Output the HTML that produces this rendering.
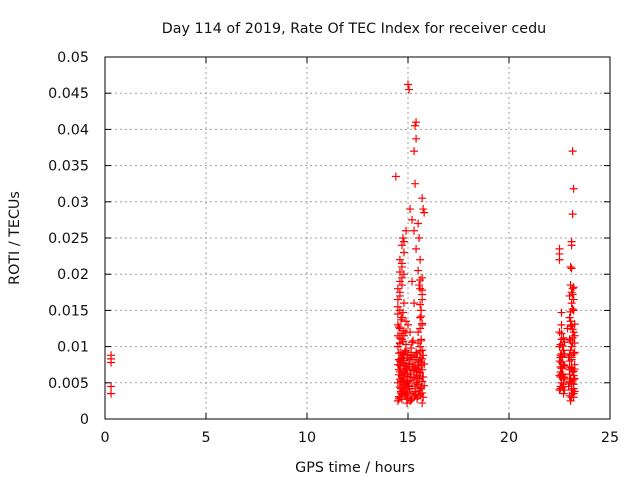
<!DOCTYPE html>
<html><head><meta charset="utf-8"><style>
html,body{margin:0;padding:0;background:#fff;}
svg{display:block;font-family:"DejaVu Sans","Liberation Sans",sans-serif;}
</style></head><body>
<svg id="chart" width="640" height="480" xmlns="http://www.w3.org/2000/svg">
<rect width="640" height="480" fill="#fff"/>
<text x="354" y="33" font-size="14.3" text-anchor="middle" fill="#111">Day 114 of 2019, Rate Of TEC Index for receiver cedu</text>
<text x="355" y="472" font-size="14.3" text-anchor="middle" fill="#111">GPS time / hours</text>
<text transform="translate(19,238) rotate(-90)" font-size="14.3" text-anchor="middle" fill="#111">ROTI / TECUs</text>
<g id="grid"></g><g id="ticks"></g><g id="pts"></g>
<rect x="105" y="57" width="505" height="362" fill="none" stroke="#000" stroke-width="1"/>
</svg>
<script>
const xTicks=[0,5,10,15,20,25];
const yTicks=[0,0.005,0.01,0.015,0.02,0.025,0.03,0.035,0.04,0.045,0.05];
const yTickLabels=["0","0.005","0.01","0.015","0.02","0.025","0.03","0.035","0.04","0.045","0.05"];
const ptsX=[0.3,0.3,0.3,0.3,0.3,
14.5,14.6,14.7,14.8,14.9,14.5,14.6,14.7,14.8,14.9,14.5,14.6,14.7,14.8,14.9,14.5,14.6,14.7,14.8,14.9,
14.55,14.65,14.75,14.85,14.95,14.55,14.65,14.75,14.85,14.95,14.55,14.65,14.75,14.85,14.95,14.6,14.5,14.7,14.6,14.5,14.8,14.6,14.5,14.7,14.6,14.8,14.7,14.6,14.8,14.7,14.75,14.8,14.9,14.5,14.9,14.4,
15.0,15.05,15.4,15.35,15.4,15.3,15.35,15.7,15.75,15.8,15.1,15.2,15.5,15.3,15.55,15.4,15.6,15.5,15.7,15.2,15.6,15.7,15.3,15.65,15.6,15.7,15.5,15.65,15.6,15.7,
15.0,15.1,15.2,15.3,15.4,15.5,15.6,15.7,15.0,15.1,15.2,15.3,15.4,15.5,15.6,15.7,15.05,15.15,15.25,15.35,15.45,15.55,15.65,15.1,15.0,15.2,
14.6,14.7,14.8,14.9,15.0,15.1,15.2,15.3,15.4,15.5,14.65,14.75,14.85,14.95,15.05,15.15,15.25,15.35,15.45,15.55,
14.55,14.7,14.85,15.0,15.15,15.3,15.45,15.6,15.75,
14.6,14.75,14.9,15.05,15.2,15.35,15.5,15.65,15.8,
14.55,14.7,14.85,15.0,15.15,15.3,15.45,15.6,15.75,
14.6,14.75,14.9,15.05,15.2,15.35,15.5,15.65,15.8,
14.55,14.7,14.85,15.0,15.15,15.3,15.45,15.6,15.75,
14.6,14.75,14.9,15.2,15.5,15.65,
14.65,14.8,14.95,15.1,15.4,15.55,15.7,
14.65,14.8,14.95,15.1,15.4,15.55,15.7,
14.65,14.8,14.95,15.1,15.4,15.55,15.7,
14.65,14.8,14.95,15.1,15.4,15.55,15.7,
14.5,14.6,14.7,14.8,15.6,15.7,15.65,14.55,14.65,14.75,15.6,15.7,14.5,14.6,14.7,15.55,15.7,14.6,14.7,15.6,
22.5,22.5,22.5,22.6,22.6,22.5,22.6,22.5,22.6,22.5,22.6,22.5,22.6,22.5,22.7,22.7,22.7,22.55,22.55,22.55,22.7,
22.55,22.65,22.75,22.55,22.65,22.75,22.55,22.65,22.75,22.55,22.65,22.75,22.55,22.65,22.75,22.6,22.7,
23.15,23.2,23.15,23.1,23.1,23.05,23.1,23.05,23.15,23.0,23.1,23.2,23.0,23.1,23.2,23.0,23.1,23.2,23.0,23.1,23.2,23.0,23.1,23.2,23.05,23.15,22.95,23.05,23.15,23.25,22.95,23.05,23.15,23.25,22.9,23.05,
23.0,23.1,23.2,23.0,23.1,23.2,22.6,22.7,22.6,22.7,
23.0,23.1,23.2,23.25,23.0,23.1,23.2,23.25,23.0,23.1,23.2,23.25,23.0,23.1,23.2,23.25,23.05,23.15,23.25,23.05,23.15,23.25,23.05,23.15,23.2,23.1,23.15,23.2];
const ptsY=[0.0035,0.0045,0.0078,0.0083,0.0088,
0.0025,0.003,0.0035,0.004,0.0045,0.005,0.0055,0.006,0.0065,0.007,0.0075,0.008,0.0085,0.009,0.0095,0.01,0.0105,0.011,0.0115,0.012,
0.0028,0.0042,0.0052,0.0062,0.0072,0.0082,0.0092,0.0038,0.0048,0.0058,0.0068,0.0078,0.0088,0.0032,0.0022,0.0125,0.013,0.014,0.015,0.0155,0.016,0.017,0.018,0.0185,0.019,0.02,0.021,0.022,0.023,0.024,0.025,0.0245,0.026,0.0145,0.0135,0.0335,
0.0462,0.0455,0.041,0.0405,0.0387,0.037,0.0325,0.0305,0.029,0.0285,0.029,0.0275,0.027,0.026,0.025,0.0235,0.022,0.0205,0.0195,0.019,0.018,0.0165,0.016,0.015,0.014,0.013,0.012,0.011,0.01,0.0095,
0.0028,0.0035,0.0045,0.0055,0.0065,0.0075,0.0085,0.0022,0.0052,0.0062,0.0072,0.0082,0.0092,0.0032,0.0042,0.0058,0.0075,0.0098,0.0108,0.0038,0.0048,0.0068,0.0078,0.012,0.013,0.0028,
0.0065,0.0055,0.0075,0.0035,0.0045,0.0025,0.0085,0.0068,0.0058,0.0048,0.0038,0.0078,0.0062,0.0052,0.0042,0.0088,0.0072,0.0032,0.0066,0.0056,
0.0031,0.0027,0.0033,0.0029,0.0026,0.0032,0.0028,0.0034,0.0030,
0.0044,0.0047,0.0043,0.0046,0.0045,0.0042,0.0048,0.0044,0.0046,
0.0061,0.0058,0.0063,0.0059,0.0062,0.0057,0.0060,0.0064,0.0058,
0.0074,0.0077,0.0073,0.0076,0.0075,0.0072,0.0078,0.0074,0.0076,
0.0091,0.0088,0.0093,0.0089,0.0092,0.0087,0.0090,0.0094,0.0088,
0.0104,0.0107,0.0103,0.0106,0.0105,0.0108,
0.0036,0.0038,0.0035,0.0037,0.0034,0.0039,0.0036,
0.0052,0.0054,0.0051,0.0053,0.0050,0.0055,0.0052,
0.0068,0.0066,0.0069,0.0067,0.0070,0.0065,0.0068,
0.0083,0.0081,0.0084,0.0082,0.0085,0.0080,0.0083,
0.0115,0.0112,0.0118,0.0122,0.0125,0.0132,0.0142,0.0127,0.0137,0.0147,0.0158,0.0172,0.0165,0.0175,0.0195,0.0185,0.0178,0.0203,0.0215,0.0192,
0.0235,0.0228,0.022,0.0147,0.013,0.012,0.011,0.01,0.009,0.008,0.007,0.006,0.005,0.004,0.0035,0.0055,0.0075,0.0085,0.0065,0.0045,0.0095,
0.0042,0.0044,0.0040,0.0058,0.0061,0.0057,0.0072,0.0070,0.0074,0.0088,0.0086,0.0090,0.0103,0.0101,0.0106,0.0118,0.0112,
0.037,0.0318,0.0283,0.0245,0.024,0.021,0.0208,0.0185,0.018,0.017,0.016,0.015,0.014,0.013,0.012,0.011,0.01,0.009,0.008,0.007,0.006,0.005,0.004,0.003,0.0025,0.0035,0.0045,0.0055,0.0065,0.0075,0.0085,0.0095,0.0105,0.0115,0.0125,0.0135,
0.0062,0.0052,0.0042,0.0072,0.0082,0.0048,0.0062,0.0048,0.0078,0.0058,
0.0032,0.0030,0.0035,0.0038,0.0052,0.0049,0.0054,0.0056,0.0068,0.0071,0.0066,0.0069,0.0088,0.0085,0.0090,0.0092,0.0108,0.0112,0.0105,0.0128,0.0124,0.0131,0.0148,0.0152,0.0165,0.0175,0.0172,0.0182];
const NS="http://www.w3.org/2000/svg";
const X0=105,X1=610,Y0=419,Y1=57;
const sx=v=>X0+(v-0)/(25-0)*(X1-X0);
const sy=v=>Y0-(v-0)/(0.05-0)*(Y0-Y1);
const grid=document.getElementById('grid'),ticks=document.getElementById('ticks'),pts=document.getElementById('pts');
function el(t,a,p){const e=document.createElementNS(NS,t);for(const k in a)e.setAttribute(k,a[k]);p.appendChild(e);return e;}
xTicks.forEach(v=>{const x=sx(v);
 if(v>0&&v<25){const g=el('line',{x1:x,x2:x,y1:Y1,y2:Y0,stroke:'#a0a0a0','stroke-dasharray':'2,3'},grid);
 
 }
 el('line',{x1:x,x2:x,y1:Y0,y2:Y0-6,stroke:'#000'},ticks);
 el('line',{x1:x,x2:x,y1:Y1,y2:Y1+6,stroke:'#000'},ticks);
 const t=el('text',{x:x,y:Y0+23,'font-size':14.3,'text-anchor':'middle',fill:'#111'},ticks);t.textContent=v;
 
 });
yTicks.forEach((v,i)=>{const y=sy(v);
 if(i>0&&i<yTicks.length-1){const g=el('line',{x1:X0,x2:X1,y1:y,y2:y,stroke:'#a0a0a0','stroke-dasharray':'2,3'},grid);
 
 }
 el('line',{x1:X0,x2:X0+6,y1:y,y2:y,stroke:'#000'},ticks);
 el('line',{x1:X1,x2:X1-6,y1:y,y2:y,stroke:'#000'},ticks);
 const t=el('text',{x:X0-16,y:y+5,'font-size':14.3,'text-anchor':'end',fill:'#111'},ticks);t.textContent=yTickLabels[i];
 
 });
let d='';
for(let i=0;i<ptsX.length;i++){const x=sx(ptsX[i]),y=sy(ptsY[i]);d+=`M${x-4},${y}h8M${x},${y-4}v8`;}
const p=el('path',{d:d,stroke:'#ff0000','stroke-width':1.2,fill:'none'},pts);


</script>
</body></html>
